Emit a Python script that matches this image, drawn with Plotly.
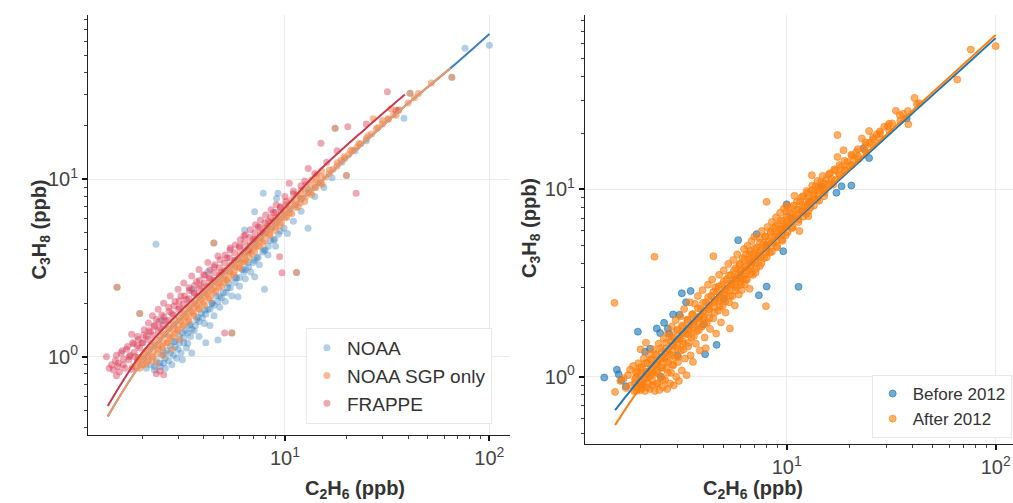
import plotly.graph_objects as go

# ---------------- data ----------------
# Left panel: C2H6 (x, ppb) vs C3H8 (y, ppb)
NOAA = [
    [2.1, 0.86], [2.2, 0.9], [2.3, 0.84], [2.35, 0.95], [2.45, 0.88], [2.5, 1.02], [2.55, 0.92],
    [2.6, 0.86], [2.65, 1.08], [2.7, 0.95], [2.75, 1.15], [2.8, 0.9], [2.85, 1.02], [2.9, 1.22],
    [2.95, 0.98], [3.0, 1.1], [3.05, 1.3], [3.1, 1.05], [3.15, 0.96], [3.2, 1.2], [3.25, 1.4],
    [3.3, 1.12], [3.35, 1.19], [3.4, 1.5], [3.45, 1.3], [3.5, 1.05], [3.6, 1.4], [3.7, 1.62],
    [3.8, 1.3], [3.9, 1.75], [4.04, 1.54], [4.1, 1.2], [4.2, 1.85], [4.3, 1.5], [4.4, 2.0],
    [4.5, 1.7], [4.6, 2.2], [4.7, 1.24], [4.8, 1.9], [5.0, 2.3], [5.1, 2.05], [5.3, 2.6],
    [5.5, 2.2], [5.7, 2.8], [5.89, 2.18], [6.0, 2.5], [6.2, 3.1], [6.4, 2.75], [6.6, 3.4],
    [6.8, 3.0], [7.11, 2.82], [7.3, 3.6], [7.5, 3.3], [7.94, 2.4], [8.0, 4.0], [8.26, 3.74],
    [8.5, 4.5], [9.0, 4.2], [9.5, 5.1], [10.3, 4.95], [11.0, 5.8], [12.0, 6.6], [12.97, 5.3],
    [14.0, 8.0], [15.5, 9.0], [17.0, 10.2], [19.0, 12.5], [22.0, 14.5], [25.0, 16.5],
    [38.2, 22.1], [76.0, 54.8], [100.0, 57.1],
    [2.34, 4.3], [6.35, 5.18], [7.11, 6.56], [9.25, 8.34], [12.0, 7.8], [13.0, 8.7],
    [7.83, 8.34], [9.1, 7.8], [4.2, 3.0], [3.5, 2.4], [2.5, 1.6],
    [1.51, 2.46], [1.95, 1.75], [4.49, 4.38], [5.5, 1.36], [11.4, 2.98], [17.6, 19.4],
    [40.9, 30.6], [20.0, 10.5], [65.5, 37.6],
]
NOAA_CORE = [
    [2.3, 0.88], [2.45, 0.92], [2.6, 0.98], [2.75, 1.05], [2.9, 1.13], [3.05, 1.2], [3.2, 1.28],
    [3.35, 1.36], [3.5, 1.43], [3.65, 1.5], [3.8, 1.58], [3.95, 1.66], [4.1, 1.74], [4.3, 1.85],
    [4.5, 1.95], [4.7, 2.05], [4.9, 2.15], [5.15, 2.3], [5.4, 2.45], [5.7, 2.62], [6.0, 2.8],
    [6.3, 3.0], [6.65, 3.2], [7.0, 3.4], [7.4, 3.65], [7.8, 3.9], [8.3, 4.2], [8.8, 4.55],
    [9.3, 4.9], [9.9, 5.3],
    [2.55, 1.06], [2.85, 1.22], [3.15, 1.37], [3.45, 1.52], [3.75, 1.67], [4.05, 1.83],
    [4.4, 2.0], [4.8, 2.2], [5.25, 2.45], [5.8, 2.78], [6.4, 3.1], [7.1, 3.5], [7.9, 4.0],
    [8.9, 4.6],
]
NOAA_SGP = [
    [1.8, 0.88], [1.9, 0.95], [1.95, 0.86], [2.0, 1.0], [2.05, 0.9], [2.1, 1.08], [2.15, 0.95],
    [2.2, 1.15], [2.25, 1.0], [2.3, 1.2], [2.35, 0.92], [2.4, 1.1], [2.45, 1.3], [2.5, 1.15],
    [2.55, 1.02], [2.6, 1.35], [2.65, 1.2], [2.7, 1.45], [2.75, 1.28], [2.8, 1.1], [2.85, 1.5],
    [2.9, 1.35], [2.95, 1.6], [3.0, 1.42], [3.05, 1.25], [3.1, 1.6], [3.15, 1.75], [3.2, 1.5],
    [3.3, 1.68], [3.35, 1.88], [3.4, 1.58], [3.5, 1.8], [3.55, 2.0], [3.6, 1.7], [3.7, 1.95],
    [3.75, 2.2], [3.8, 1.85], [3.9, 2.1], [4.0, 2.3], [4.05, 1.95], [4.15, 2.25], [4.2, 2.5],
    [4.3, 2.1], [4.4, 2.4], [4.5, 2.7], [4.6, 2.35], [4.7, 2.6], [4.8, 2.9], [4.9, 2.5],
    [5.0, 2.75], [5.1, 3.05], [5.2, 2.7], [5.35, 3.0], [5.5, 3.3], [5.6, 2.9], [5.75, 3.2],
    [5.9, 3.55], [6.0, 3.15], [6.15, 3.4], [6.3, 3.8], [6.45, 3.5], [6.6, 3.9], [6.75, 4.2],
    [6.9, 3.8], [7.05, 4.1], [7.2, 4.5], [7.4, 4.2], [7.6, 4.7], [7.8, 4.4], [8.0, 5.0],
    [8.2, 5.4], [8.4, 4.9], [8.6, 5.3], [8.8, 5.8], [9.0, 5.4], [9.3, 6.0], [9.6, 5.7],
    [9.9, 6.4], [10.2, 6.1], [10.5, 6.8], [10.8, 6.4], [11.2, 7.2], [11.6, 7.0], [12.0, 7.8],
    [12.5, 7.5], [13.0, 8.4], [13.5, 8.2], [14.0, 9.0], [14.6, 9.6], [15.2, 9.4], [15.8, 10.3],
    [16.5, 10.8], [17.2, 11.4], [18.0, 11.9], [18.8, 12.8], [19.6, 13.1], [20.5, 13.8],
    [21.5, 14.6], [22.5, 15.2], [23.5, 15.9], [25.0, 17.0], [26.5, 18.0], [28.0, 19.3],
    [30.0, 20.5], [32.0, 21.8], [34.0, 23.2], [36.0, 24.5], [40.0, 27.0], [43.0, 28.9],
    [27.0, 22.0], [30.0, 21.5], [33.0, 25.0], [35.0, 23.0],
    [1.51, 2.46], [4.49, 4.38], [5.5, 1.36], [11.4, 2.98], [17.6, 19.4], [40.9, 30.6],
    [20.0, 10.5], [65.5, 37.6], [1.95, 1.75],
]
NOAA_SGP_CORE = [
    [1.9, 0.93], [1.92, 0.99], [1.89, 0.87], [2.02, 0.97], [2.04, 1.04], [2.0, 0.9],
    [2.14, 1.01], [2.16, 1.1], [2.12, 0.93], [2.27, 1.07], [2.29, 1.16], [2.25, 0.98],
    [2.4, 1.14], [2.42, 1.24], [2.38, 1.04], [2.54, 1.22], [2.56, 1.33], [2.52, 1.12],
    [2.69, 1.31], [2.71, 1.43], [2.67, 1.2], [2.85, 1.41], [2.87, 1.53], [2.83, 1.3],
    [3.02, 1.51], [3.04, 1.65], [3.0, 1.4], [3.2, 1.63], [3.22, 1.77], [3.18, 1.5],
    [3.39, 1.76], [3.41, 1.9], [3.37, 1.62], [3.59, 1.88], [3.61, 2.04], [3.57, 1.74],
    [3.8, 2.02], [3.82, 2.19], [3.78, 1.87], [4.02, 2.17], [4.05, 2.35], [4.0, 2.0],
    [4.26, 2.32], [4.29, 2.52], [4.24, 2.14], [4.51, 2.48], [4.54, 2.69], [4.49, 2.28],
    [4.78, 2.65], [4.81, 2.87], [4.76, 2.45], [5.06, 2.83], [5.09, 3.07], [5.04, 2.61],
    [5.36, 3.03], [5.39, 3.28], [5.34, 2.79], [5.67, 3.24], [5.71, 3.5], [5.65, 2.99],
    [6.01, 3.48], [6.05, 3.77], [5.99, 3.2], [6.36, 3.71], [6.4, 4.02], [6.34, 3.42],
    [6.73, 3.97], [6.78, 4.3], [6.71, 3.66], [7.13, 4.25], [7.18, 4.6], [7.11, 3.92],
    [7.55, 4.56], [7.6, 4.94], [7.53, 4.2], [8.0, 4.89], [8.05, 5.3], [7.98, 4.5],
    [8.47, 5.23], [8.53, 5.67], [8.45, 4.82], [8.97, 5.6], [9.03, 6.06], [8.95, 5.15],
    [9.5, 5.98], [9.57, 6.48], [9.48, 5.5], [10.06, 6.65], [10.13, 7.2], [10.04, 6.12],
    [10.6, 7.05], [10.7, 7.63], [10.58, 6.48], [11.3, 7.53], [11.4, 8.15], [11.28, 6.93],
    [11.9, 8.02], [12.0, 8.68], [11.88, 7.38], [12.6, 8.6], [12.7, 9.32], [12.58, 7.92],
    [13.4, 9.2], [13.5, 9.96], [13.38, 8.46], [14.2, 9.78], [14.3, 10.6], [14.18, 9.0],
    [15.0, 10.4], [15.1, 11.2], [14.98, 9.55],
    [16.5, 11.3], [18.0, 12.4], [19.5, 13.4], [21.0, 14.6], [23.0, 15.9], [25.5, 17.6],
    [28.5, 19.6], [32.0, 22.0], [36.0, 24.6], [45.0, 30.5], [52.0, 35.0],
]
FRAPPE = [
    [1.34, 1.0], [1.38, 0.86], [1.42, 0.9], [1.45, 0.84], [1.48, 0.95], [1.5, 0.78], [1.52, 0.88],
    [1.55, 0.82], [1.58, 1.05], [1.62, 0.9], [1.65, 0.86], [1.68, 1.1], [1.72, 0.96], [1.75, 1.02],
    [1.78, 0.85], [1.82, 1.18], [1.85, 1.0], [1.9, 1.3], [1.95, 1.12], [1.78, 1.34], [2.0, 1.2],
    [2.05, 1.42], [2.1, 1.3], [2.15, 1.55], [2.2, 1.38], [2.25, 1.7], [2.3, 1.5], [2.35, 1.62],
    [2.4, 1.85], [2.45, 1.45], [2.5, 1.72], [2.55, 2.0], [2.6, 1.6], [2.7, 1.9], [2.75, 2.2],
    [2.8, 1.75], [2.9, 2.05], [3.0, 2.4], [3.05, 1.9], [3.1, 2.2], [3.2, 2.6], [3.3, 2.1],
    [3.4, 2.45], [3.5, 2.85], [3.6, 2.3], [3.7, 2.65], [3.8, 3.1], [3.9, 2.5], [4.0, 2.9],
    [4.2, 3.4], [4.3, 2.75], [4.5, 3.2], [4.7, 3.7], [4.9, 3.0], [5.07, 1.36], [5.2, 3.6],
    [5.4, 4.1], [5.7, 3.5], [6.0, 4.2], [6.3, 4.8], [6.6, 4.0], [7.0, 4.6], [7.4, 5.4],
    [7.8, 5.0], [8.3, 5.8], [8.8, 6.5], [9.42, 3.66], [9.67, 2.97], [9.5, 7.0], [10.0, 8.0],
    [10.5, 9.5], [11.0, 8.3], [12.0, 9.2], [13.0, 11.5], [14.0, 10.8], [15.0, 16.0], [16.0, 12.5],
    [18.0, 14.5], [20.3, 19.8], [22.3, 8.34], [25.0, 20.5], [31.7, 31.2], [35.0, 24.5],
    [2.35, 0.8], [2.45, 0.83], [2.55, 0.79],
]
FRAPPE_CORE = [
    [1.5, 1.02], [1.53, 0.92], [1.6, 1.08], [1.62, 0.97], [1.7, 1.14], [1.73, 1.0],
    [1.8, 1.2], [1.83, 1.06], [1.9, 1.15], [1.92, 1.25], [2.02, 1.2], [2.04, 1.32],
    [2.14, 1.25], [2.16, 1.4], [2.27, 1.32], [2.29, 1.48], [2.4, 1.4], [2.42, 1.58],
    [2.54, 1.5], [2.56, 1.68], [2.69, 1.6], [2.71, 1.8], [2.85, 1.72], [2.87, 1.93],
    [3.02, 1.85], [3.04, 2.06], [3.2, 1.98], [3.22, 2.2], [3.39, 2.12], [3.41, 2.36],
    [3.59, 2.27], [3.61, 2.52], [3.8, 2.43], [3.82, 2.7], [4.02, 2.6], [4.05, 2.88],
    [4.26, 2.78], [4.29, 3.08], [4.51, 2.97], [4.54, 3.3], [4.78, 3.17], [4.81, 3.52],
    [5.06, 3.38], [5.09, 3.75], [5.36, 3.6], [5.39, 4.0], [5.67, 3.85], [5.71, 4.27],
    [6.01, 4.12], [6.05, 4.56], [6.36, 4.4], [6.4, 4.85], [6.73, 4.7], [6.78, 5.2],
    [7.13, 5.0], [7.18, 5.55], [7.55, 5.35], [7.6, 5.9], [8.0, 5.7], [8.05, 6.3],
    [8.5, 6.1], [8.56, 6.75], [9.0, 6.5], [9.06, 7.2], [9.5, 6.95], [10.1, 7.5],
    [11.0, 8.6], [12.5, 9.8],
]
# fitted lines, left panel
FIT_NOAA = [[1.36, 0.46], [2.0, 0.93], [3.0, 1.6], [5.0, 2.9], [10.0, 6.3], [20.0, 13.1],
            [38.0, 25.5], [64.6, 42.4], [100.0, 66.1]]
FIT_SGP = [[1.36, 0.463], [2.0, 0.93], [3.0, 1.6], [5.0, 2.9], [10.0, 6.3], [20.0, 13.1],
           [38.0, 25.5], [64.6, 42.4]]
FIT_FRAPPE = [[1.36, 0.527], [2.0, 1.05], [3.0, 1.75], [5.0, 3.05], [8.9, 6.0], [14.5, 11.0],
              [25.0, 19.5], [38.6, 30.1]]

# Right panel
BEFORE_2012 = [
    [1.34, 0.99], [1.54, 1.09], [1.57, 1.03], [1.62, 0.96], [1.70, 0.89], [1.94, 1.74],
    [2.1, 1.36], [2.22, 1.41], [2.39, 1.81], [2.48, 1.71], [2.59, 1.94], [2.7, 1.81],
    [2.74, 1.7], [2.86, 2.15], [3.07, 2.14], [3.15, 2.79], [3.30, 2.5], [3.47, 2.87],
    [4.07, 1.32], [4.62, 1.48], [5.86, 5.36], [7.18, 5.77], [9.63, 4.68], [8.02, 3.03],
    [7.36, 2.72], [11.4, 3.02], [10.0, 8.33], [24.8, 14.7], [23.3, 16.6], [20.4, 10.5],
    [18.3, 10.4], [17.3, 9.6], [14.6, 10.4], [37.5, 23.9],
    [2.0, 0.9], [2.5, 1.0], [3.0, 1.3], [4.0, 1.9], [5.0, 2.6], [6.0, 3.4], [8.0, 5.0],
    [10.5, 7.0], [13.0, 8.6],
]
AFTER_2012 = [
    [1.51, 0.83], [1.60, 0.95], [1.66, 0.98], [1.70, 0.87], [1.74, 1.02], [1.78, 1.09],
    [1.80, 0.90], [1.84, 1.14], [1.50, 2.48],
    [1.86, 0.84], [1.88, 0.97], [1.90, 1.05], [1.92, 0.88], [1.95, 1.18], [1.97, 0.93],
    [2.0, 0.85], [2.0, 1.01], [2.03, 1.12], [2.05, 0.90], [2.07, 1.25], [2.09, 0.97],
    [2.1, 0.84], [2.12, 1.06], [2.15, 1.18], [2.17, 0.92], [2.19, 1.32], [2.2, 1.0],
    [2.0, 1.4], [2.12, 1.52],
    [2.22, 0.86], [2.24, 1.1], [2.26, 1.22], [2.28, 0.95], [2.3, 1.4], [2.32, 1.03],
    [2.34, 0.84], [2.36, 1.16], [2.38, 1.3], [2.4, 0.92], [2.42, 1.08], [2.44, 1.5],
    [2.46, 0.85], [2.48, 1.22], [2.5, 1.0], [2.52, 1.36], [2.54, 1.12], [2.56, 0.88],
    [2.58, 1.6], [2.6, 1.26], [2.33, 4.37],
    [2.62, 0.96], [2.64, 1.42], [2.66, 1.1], [2.68, 0.86], [2.7, 1.7], [2.72, 1.2],
    [2.74, 1.32], [2.76, 0.92], [2.78, 1.55], [2.8, 1.05], [2.82, 1.85], [2.84, 1.4],
    [2.86, 1.15], [2.88, 0.9], [2.9, 1.62], [2.92, 1.27], [2.94, 2.0], [2.96, 1.0],
    [2.98, 1.48], [3.0, 1.78],
    [3.02, 1.2], [3.05, 0.95], [3.07, 1.6], [3.1, 2.1], [3.12, 1.38], [3.15, 1.08],
    [3.18, 1.85], [3.2, 1.5], [3.23, 2.3], [3.26, 1.25], [3.29, 1.7], [3.32, 1.02],
    [3.35, 2.0], [3.38, 1.45], [3.41, 1.78], [3.44, 2.5], [3.47, 1.3], [3.5, 1.62],
    [3.53, 2.15], [3.56, 1.2], [3.6, 1.9], [3.64, 2.45], [3.68, 1.5], [3.72, 1.75],
    [3.76, 2.7], [3.8, 2.05], [3.84, 1.38], [3.88, 2.3], [3.92, 1.85], [3.96, 2.9],
    [4.0, 2.1], [4.05, 1.62], [4.1, 2.5], [4.15, 1.95], [4.2, 3.1], [4.1, 1.42],
    [4.25, 2.3], [4.3, 1.8], [4.35, 2.7], [4.4, 3.3], [4.45, 2.05], [4.5, 2.5],
    [4.55, 3.0], [4.6, 1.7], [4.65, 2.85], [4.7, 2.25], [4.75, 3.5], [4.8, 2.6],
    [4.85, 1.95], [4.9, 3.1], [4.95, 2.4], [5.0, 3.7], [4.46, 4.4],
    [5.05, 2.75], [5.1, 2.2], [5.15, 3.3], [5.2, 2.95], [5.25, 4.0], [5.3, 2.5],
    [5.35, 1.81], [5.4, 3.5], [5.45, 3.1], [5.5, 2.7], [5.55, 4.2], [5.6, 3.3],
    [5.65, 2.4], [5.7, 3.8], [5.75, 3.0], [5.8, 4.5], [5.85, 3.5], [5.9, 2.75],
    [5.95, 4.0], [6.0, 3.2],
    [6.05, 3.7], [6.1, 2.9], [6.15, 4.3], [6.2, 3.45], [6.25, 4.8], [6.3, 3.1],
    [6.35, 3.9], [6.4, 4.5], [6.45, 3.3], [6.5, 5.0], [6.55, 3.7], [6.6, 4.2],
    [6.65, 2.95], [6.7, 4.7], [6.75, 3.9], [6.8, 5.3], [6.85, 4.1], [6.9, 3.5],
    [6.95, 4.5], [7.0, 5.6],
    [7.05, 4.2], [7.1, 3.6], [7.2, 4.9], [7.3, 4.4], [7.4, 5.5], [7.45, 3.9],
    [7.5, 4.7], [7.6, 6.0], [7.7, 5.1], [7.8, 4.3], [7.9, 5.6], [7.96, 2.38],
    [8.0, 4.8], [8.1, 6.3], [8.2, 5.3], [8.3, 4.6], [8.4, 5.9], [8.5, 6.7], [8.02, 8.58],
    [8.6, 5.2], [8.7, 6.2], [8.8, 5.6], [8.9, 7.1], [9.0, 4.9], [9.1, 6.5],
    [9.2, 5.9], [9.3, 7.5], [9.4, 6.1], [9.5, 5.4], [9.6, 6.8], [9.7, 7.9],
    [9.8, 6.3], [9.9, 5.7], [10.0, 7.2], [10.0, 8.2],
    [10.2, 6.6], [10.4, 7.5], [10.6, 6.2], [10.8, 8.2], [10.9, 9.25], [11.0, 7.1],
    [11.2, 7.8], [11.4, 6.9], [11.6, 8.6], [11.8, 7.6], [12.0, 9.2], [12.2, 8.1],
    [12.4, 7.4], [12.6, 9.6], [12.8, 8.7], [13.0, 8.0], [13.2, 11.9], [13.2, 9.9],
    [11.5, 6.0], [12.7, 7.2],
    [13.5, 9.3], [13.8, 10.4], [14.0, 8.8], [14.3, 9.9], [14.6, 11.0], [14.9, 10.2],
    [15.2, 9.6], [15.5, 11.3], [15.8, 10.7], [16.1, 12.2], [16.4, 11.4], [16.7, 10.6],
    [17.0, 12.6], [17.5, 14.9], [17.5, 19.5],
    [17.8, 12.1], [18.2, 13.2], [18.7, 16.2], [19.0, 12.8], [19.5, 14.0], [20.0, 13.4],
    [20.5, 15.1], [21.0, 14.3], [21.5, 15.8], [22.0, 15.0], [22.9, 18.7], [23.5, 16.3],
    [24.0, 17.2], [24.8, 20.5], [25.0, 17.8],
    [26.0, 18.5], [27.0, 19.7], [28.0, 19.9], [29.3, 21.6], [30.5, 21.8], [32.0, 22.5],
    [33.3, 26.3], [34.8, 24.9], [36.0, 25.3], [38.2, 22.3], [40.9, 30.8], [43.0, 28.8],
    [65.5, 38.6], [76.0, 55.8], [100.0, 58.2],
]
AFTER_2012_CORE = [
    [1.88, 0.92], [1.91, 0.84], [1.93, 1.07], [1.9, 0.99], [2.0, 0.96], [2.02, 0.87],
    [1.99, 1.12], [2.03, 1.03], [2.12, 0.99], [2.15, 0.88], [2.11, 1.18], [2.14, 1.06],
    [2.25, 1.03], [2.28, 0.9], [2.24, 1.24], [2.27, 1.12], [2.38, 1.06], [2.41, 0.92],
    [2.37, 1.32], [2.4, 1.19], [2.52, 1.12], [2.55, 0.96], [2.5, 1.42], [2.54, 1.27],
    [2.67, 1.2], [2.7, 1.05], [2.65, 1.52], [2.69, 1.36], [2.83, 1.3], [2.86, 1.16],
    [2.81, 1.63], [2.85, 1.47], [3.0, 1.42], [3.03, 1.28], [2.98, 1.76], [3.02, 1.58],
    [3.18, 1.55], [3.21, 1.4], [3.16, 1.88], [3.2, 1.7], [3.37, 1.68], [3.4, 1.52],
    [3.35, 2.02], [3.39, 1.83], [3.57, 1.8], [3.6, 1.65], [3.55, 2.16], [3.59, 1.97],
    [3.78, 1.93], [3.81, 1.78], [3.76, 2.32], [3.8, 2.1], [4.0, 2.07], [4.03, 1.92],
    [3.98, 2.48], [4.02, 2.26], [4.24, 2.22], [4.27, 2.05], [4.21, 2.66], [4.26, 2.42],
    [4.49, 2.37], [4.52, 2.2], [4.46, 2.84], [4.51, 2.58], [4.76, 2.54], [4.8, 2.36],
    [4.73, 3.04], [4.78, 2.76], [5.04, 2.71], [5.08, 2.52], [5.0, 3.24], [5.06, 2.95],
    [5.34, 2.9], [5.38, 2.7], [5.3, 3.46], [5.36, 3.15], [5.65, 3.1], [5.69, 2.88],
    [5.6, 3.7], [5.67, 3.37], [5.99, 3.32], [6.03, 3.1], [5.94, 3.97], [6.01, 3.62],
    [6.34, 3.55], [6.39, 3.3], [6.28, 4.24], [6.37, 3.86], [6.71, 3.8], [6.76, 3.53],
    [6.65, 4.53], [6.74, 4.13], [7.11, 4.06], [7.16, 3.78], [7.04, 4.85], [7.14, 4.42],
    [7.53, 4.35], [7.58, 4.05], [7.46, 5.2], [7.56, 4.74], [7.98, 4.67], [8.03, 4.35],
    [7.9, 5.58], [8.01, 5.08], [8.45, 5.0], [8.5, 4.65], [8.37, 5.97], [8.48, 5.44],
    [8.95, 5.34], [9.0, 4.98], [8.86, 6.38], [8.98, 5.82], [9.48, 5.72], [9.54, 5.32],
    [9.38, 6.83], [9.51, 6.22], [10.0, 6.35], [10.1, 5.9], [9.95, 7.6], [10.05, 6.9],
    [10.6, 6.72], [10.7, 6.3], [10.5, 8.0], [10.65, 7.32], [11.3, 7.2], [11.4, 6.7],
    [11.2, 8.6], [11.35, 7.82], [11.9, 7.65], [12.0, 7.15], [11.8, 9.1], [11.95, 8.33],
    [12.6, 8.22], [12.7, 7.65], [12.45, 9.8], [12.65, 8.95], [13.4, 8.78], [13.5, 8.2],
    [13.25, 10.5], [13.45, 9.55], [14.2, 9.35], [14.3, 8.7], [14.05, 11.1], [14.25, 10.2],
    [15.0, 9.9], [15.1, 9.2], [14.85, 11.8], [15.05, 10.8],
    [16.0, 10.5], [15.9, 12.0], [17.0, 11.2], [16.9, 12.8], [18.0, 11.9], [17.9, 13.5],
    [19.0, 12.6], [18.9, 14.2], [20.5, 13.5], [20.4, 15.3], [22.0, 14.5], [21.9, 16.4],
    [24.0, 15.8], [23.9, 17.8], [26.0, 17.2], [25.9, 19.0], [28.0, 18.6], [27.9, 20.4],
    [31.0, 20.6], [30.9, 22.4], [35.0, 23.3], [38.0, 26.2], [42.0, 28.5],
]
FIT_BEFORE = [[1.51, 0.664], [2.0, 0.98], [3.0, 1.63], [5.0, 2.92], [10.0, 6.14],
              [20.0, 12.6], [40.0, 25.5], [70.0, 44.8], [100.0, 64.2]]
FIT_AFTER = [[1.51, 0.552], [2.0, 0.88], [3.0, 1.55], [5.0, 2.9], [10.0, 6.25],
             [20.0, 12.9], [40.0, 26.3], [70.0, 46.4], [100.0, 66.7]]

LEFT_SERIES = ["NOAA", "NOAA SGP only", "FRAPPE"]
RIGHT_SERIES = ["Before 2012", "After 2012"]
TICK_VALS = [1, 10, 100]
TICK_TEXT = ["10<sup>0</sup>", "10<sup>1</sup>", "10<sup>2</sup>"]


def xs(pts):
    return [p[0] for p in pts]


def ys(pts):
    return [p[1] for p in pts]


def rgba(rgb, a):
    return "rgba(%d,%d,%d,%.2f)" % (rgb[0], rgb[1], rgb[2], a)


FONT = "Liberation Sans, Arial, Helvetica, sans-serif"
fig = go.Figure()

# ---- left panel ----
left_sets = [NOAA + NOAA_CORE, NOAA_SGP + NOAA_SGP_CORE, FRAPPE + FRAPPE_CORE]
left_cols = [(44, 123, 182), (240, 132, 68), (214, 48, 79)]
left_alpha = [0.36, 0.55, 0.42]
for name, pts, c, a in zip(LEFT_SERIES, left_sets, left_cols, left_alpha):
    fig.add_trace(go.Scatter(
        x=xs(pts), y=ys(pts), mode="markers", name=name, legend="legend",
        marker=dict(size=7, color=rgba(c, a), line=dict(width=0)),
        xaxis="x", yaxis="y"))
for pts, col in [(FIT_NOAA, "#3b7dbf"), (FIT_SGP, "#ec9a6b"), (FIT_FRAPPE, "#c93a4f")]:
    fig.add_trace(go.Scatter(x=xs(pts), y=ys(pts), mode="lines", showlegend=False,
                             line=dict(color=col, width=2, shape="spline"),
                             xaxis="x", yaxis="y"))

# ---- right panel ----
right_sets = [BEFORE_2012, AFTER_2012 + AFTER_2012_CORE]
right_cols = [(31, 119, 180), (255, 127, 14)]
for name, pts, c in zip(RIGHT_SERIES, right_sets, right_cols):
    fig.add_trace(go.Scatter(
        x=xs(pts), y=ys(pts), mode="markers", name=name, legend="legend2",
        marker=dict(size=7, color=rgba(c, 0.62), line=dict(width=1, color=rgba(c, 0.62))),
        xaxis="x2", yaxis="y2"))
for pts, col in [(FIT_BEFORE, "#1f77b4"), (FIT_AFTER, "#ff7f0e")]:
    fig.add_trace(go.Scatter(x=xs(pts), y=ys(pts), mode="lines", showlegend=False,
                             line=dict(color=col, width=2, shape="spline"),
                             xaxis="x2", yaxis="y2"))

minor_x = [2, 3, 4, 5, 6, 7, 8, 9, 20, 30, 40, 50, 60, 70, 80, 90]
minor_y = [0.4, 0.5, 0.6, 0.7, 0.8, 0.9, 2, 3, 4, 5, 6, 7, 8, 9, 20, 30, 40, 50, 60, 70, 80, 90]


def axis(rng, dom, anchor, minor_vals):
    return dict(
        type="log", range=rng, domain=dom, anchor=anchor,
        tickmode="array", tickvals=TICK_VALS, ticktext=TICK_TEXT,
        ticks="outside", ticklen=5, tickwidth=2, tickcolor="#111",
        showline=True, linecolor="#222", linewidth=1.2,
        showgrid=True, gridcolor="#ebebeb", gridwidth=1,
        zeroline=False, tickfont=dict(family=FONT, size=20, color="#444"),
        minor=dict(tickmode="array", tickvals=minor_vals, ticks="outside",
                   ticklen=3, tickwidth=1, tickcolor="#444", showgrid=False),
    )


fig.update_layout(
    width=1013, height=503, margin=dict(l=0, r=0, t=0, b=0),
    paper_bgcolor="white", plot_bgcolor="white",
    font=dict(family=FONT, color="#333"),
    xaxis=axis([0.037, 2.101], [0.0869, 0.5035], "y", minor_x),
    yaxis=axis([-0.4416, 1.927], [0.1352, 0.9702], "x", minor_y),
    xaxis2=axis([0.035, 2.083], [0.5775, 1.0], "y2", minor_x),
    yaxis2=axis([-0.359, 1.931], [0.1173, 0.9702], "x2", minor_y),
    legend=dict(x=0.302, y=0.348, xanchor="left", yanchor="top",
                bgcolor="white", bordercolor="#e8e8e8", borderwidth=1,
                font=dict(family=FONT, size=19, color="#333")),
    legend2=dict(x=0.8605, y=0.2545, xanchor="left", yanchor="top",
                 bgcolor="white", bordercolor="#e8e8e8", borderwidth=1,
                 font=dict(family=FONT, size=17, color="#333")),
    showlegend=True,
)

title_font = dict(family=FONT, size=20, color="#333")
fig.add_annotation(text="<b>C<sub>3</sub>H<sub>8</sub> (ppb)</b>", x=25 / 1013, y=1 - 230 / 503,
                   xref="paper", yref="paper", textangle=-90, showarrow=False, font=title_font)
fig.add_annotation(text="<b>C<sub>3</sub>H<sub>8</sub> (ppb)</b>", x=530 / 1013, y=1 - 228 / 503,
                   xref="paper", yref="paper", textangle=-90, showarrow=False, font=title_font)
fig.add_annotation(text="<b>C<sub>2</sub>H<sub>6</sub> (ppb)</b>", x=303 / 1013, y=1 - 475 / 503,
                   yanchor="top", xref="paper", yref="paper", showarrow=False, font=title_font)
fig.add_annotation(text="<b>C<sub>2</sub>H<sub>6</sub> (ppb)</b>", x=805 / 1013, y=1 - 475 / 503,
                   yanchor="top", xref="paper", yref="paper", showarrow=False, font=title_font)

fig.write_html("out.html")
